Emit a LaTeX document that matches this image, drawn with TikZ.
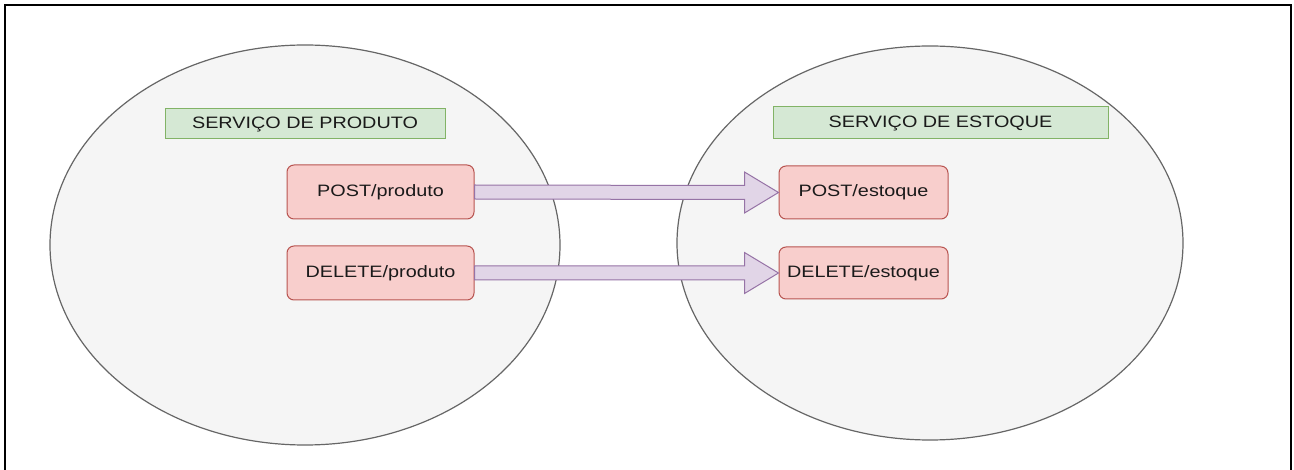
\documentclass[tikz,border=0pt]{standalone}
\usepackage{fontspec}
\setmainfont{Liberation Sans}
\usetikzlibrary{shapes.geometric,calc}
\definecolor{svcfill}{HTML}{F5F5F5}
\definecolor{svcline}{HTML}{666666}
\definecolor{tagfill}{HTML}{D5E8D4}
\definecolor{tagline}{HTML}{82B366}
\definecolor{epfill}{HTML}{F8CECC}
\definecolor{epline}{HTML}{B85450}
\definecolor{arrfill}{HTML}{E1D5E7}
\definecolor{arrline}{HTML}{9673A6}
\definecolor{ink}{HTML}{1A1A1A}
\newcommand{\wtext}[1]{\scalebox{1.2}[1]{#1}}
\tikzset{
  service/.style={ellipse, draw=svcline, fill=svcfill, line width=1.2pt, inner sep=0pt},
  tag/.style={rectangle, draw=tagline, fill=tagfill, line width=1pt, inner sep=0pt,
    text=ink, font=\fontsize{16.5}{19}\selectfont},
  endpoint/.style={rectangle, rounded corners=7pt, draw=epline, fill=epfill, line width=1pt,
    inner sep=0pt, text=ink, font=\fontsize{16.5}{19}\selectfont},
  flow/.style={draw=arrline, fill=arrfill, line width=1pt, line join=miter},
}
\newcommand{\blockarrow}[2]{%
  \path[flow] ($(#1.east)+(0,-7)$) -- ($(#2.west)+(-34,-7)$) -- ($(#2.west)+(-34,-20.5)$)
    -- (#2.west) -- ($(#2.west)+(-34,20.5)$) -- ($(#2.west)+(-34,7)$)
    -- ($(#1.east)+(0,7)$) -- cycle;}
\begin{document}
\begin{tikzpicture}[x=1pt,y=-1pt]
  \useasboundingbox (0,0) rectangle (1294,470);
  \fill[white] (0,0) rectangle (1294,470);
  % outer frame, open at the bottom
  \draw[line width=2pt, black] (5,472) -- (5,5) -- (1291,5) -- (1291,472);

  % the two services
  \node[service, minimum width=510, minimum height=400] (prod) at (305,245) {};
  \node[service, minimum width=506, minimum height=394] (stock) at (930,243) {};

  % service titles
  \node[tag, minimum width=280, minimum height=30] (prodtitle) at (305,124) {\wtext{SERVIÇO DE PRODUTO}};
  \node[tag, minimum width=335, minimum height=32] (stocktitle) at (940.5,123) {\wtext{SERVIÇO DE ESTOQUE}};

  % endpoints
  \node[endpoint, minimum width=187, minimum height=54] (postp) at (380.5,192) {\wtext{POST/produto}};
  \node[endpoint, minimum width=187, minimum height=54] (delp) at (380.5,273) {\wtext{DELETE/produto}};
  \node[endpoint, minimum width=169, minimum height=53] (poste) at (863.5,192.5) {\wtext{POST/estoque}};
  \node[endpoint, minimum width=169, minimum height=52] (dele) at (863.5,273) {\wtext{DELETE/estoque}};

  % calls between services
  \blockarrow{postp}{poste}
  \blockarrow{delp}{dele}
\end{tikzpicture}
\end{document}
